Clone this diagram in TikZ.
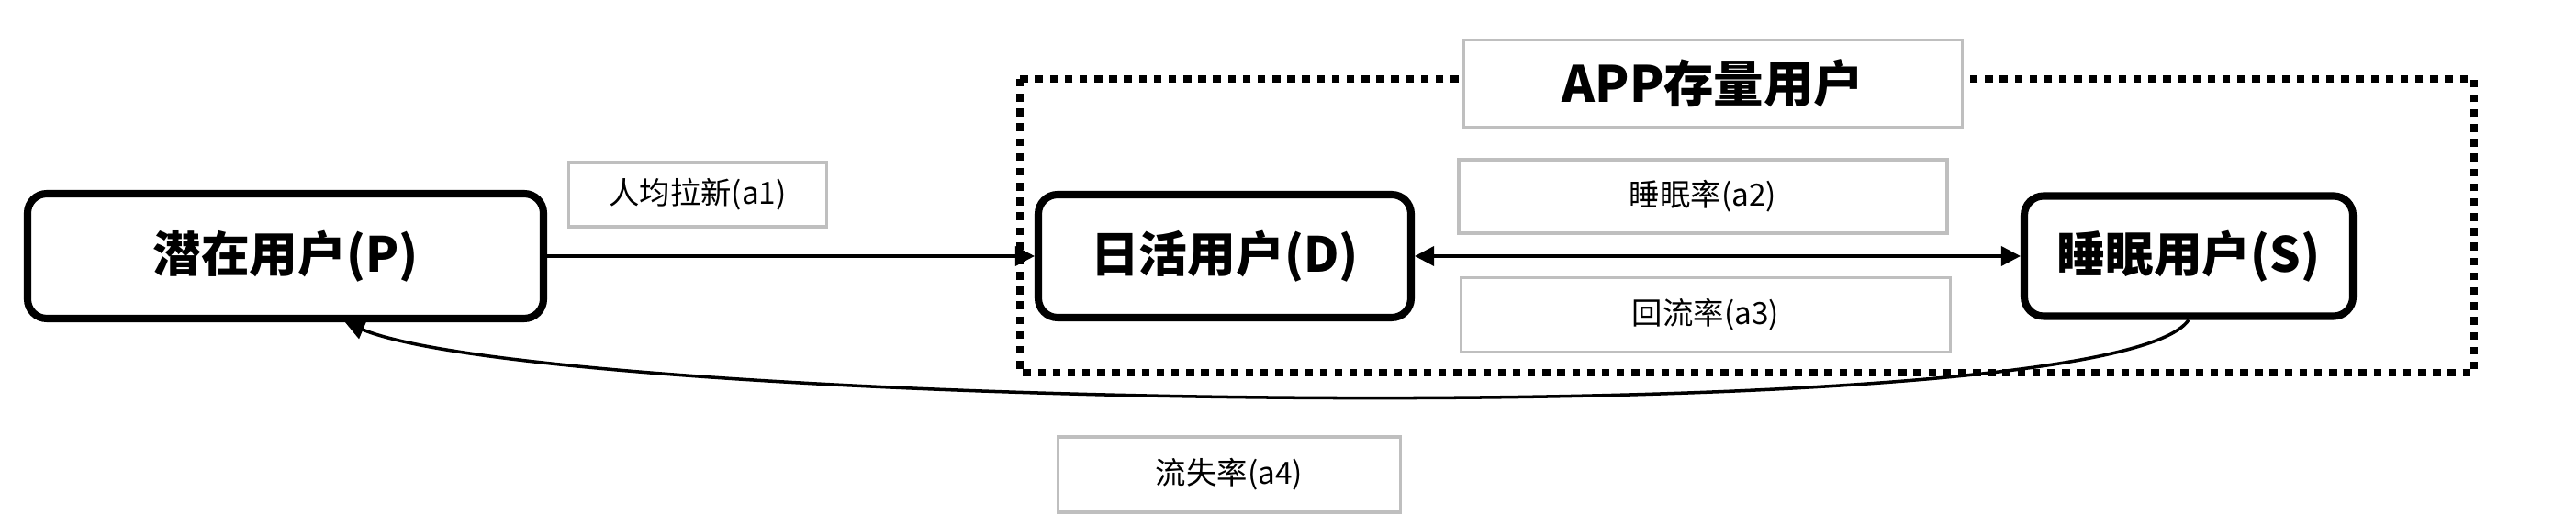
\documentclass[tikz,border=0pt]{standalone}
\usepackage{fontspec}
\setmainfont{Noto Sans CJK SC}
\usetikzlibrary{arrows.meta,positioning}
\tikzset{usr/.style={draw,line width=2.3pt,rounded corners=6pt,fill=white,align=center,
 font=\fontsize{15}{18}\selectfont\bfseries,inner sep=0pt},
 lab/.style={draw=black!25,line width=1pt,fill=white,align=center,
 font=\fontsize{9.5}{11}\selectfont,inner sep=0pt},
 arr/.style={-{Triangle[length=6pt,width=6pt]},line width=1pt},
 grp/.style={draw,line width=2.1pt,dash pattern=on 2.4pt off 2.2pt}}

\begin{document}
\begin{tikzpicture}
\useasboundingbox (0,0) rectangle (28.06,-5.73);
% APP group
\draw[grp] (11.11,-0.86) rectangle (26.95,-4.06);
\node[lab,font=\fontsize{15.5}{18}\selectfont\bfseries,minimum width=5.43cm,minimum height=0.95cm] (t) at (18.66,-0.91) {APP存量用户};
% users
\node[usr,minimum width=5.62cm,minimum height=1.36cm] (p) at (3.11,-2.79) {潜在用户(P)};
\node[usr,minimum width=4.06cm,minimum height=1.34cm] (d) at (13.34,-2.79) {日活用户(D)};
\node[usr,minimum width=3.58cm,minimum height=1.31cm] (s) at (23.84,-2.79) {睡眠用户(S)};
% rates
\node[lab,minimum width=2.81cm,minimum height=0.70cm] (a1) at (7.60,-2.12) {人均拉新(a1)};
\node[lab,minimum width=5.32cm,minimum height=0.80cm] (a2) at (18.55,-2.14) {睡眠率(a2)};
\node[lab,minimum width=5.33cm,minimum height=0.81cm] (a3) at (18.58,-3.43) {回流率(a3)};
\node[lab,minimum width=3.73cm,minimum height=0.82cm] (a4) at (13.39,-5.17) {流失率(a4)};
% flows
\draw[arr] (p)--(d);
\draw[arr,{Triangle[length=6pt,width=6pt]}-{Triangle[length=6pt,width=6pt]}] (d)--(s);
\draw[arr] (s.south) .. controls (23.0,-4.75) and (6.0,-4.45) .. (p.-48);
\end{tikzpicture}
\end{document}
